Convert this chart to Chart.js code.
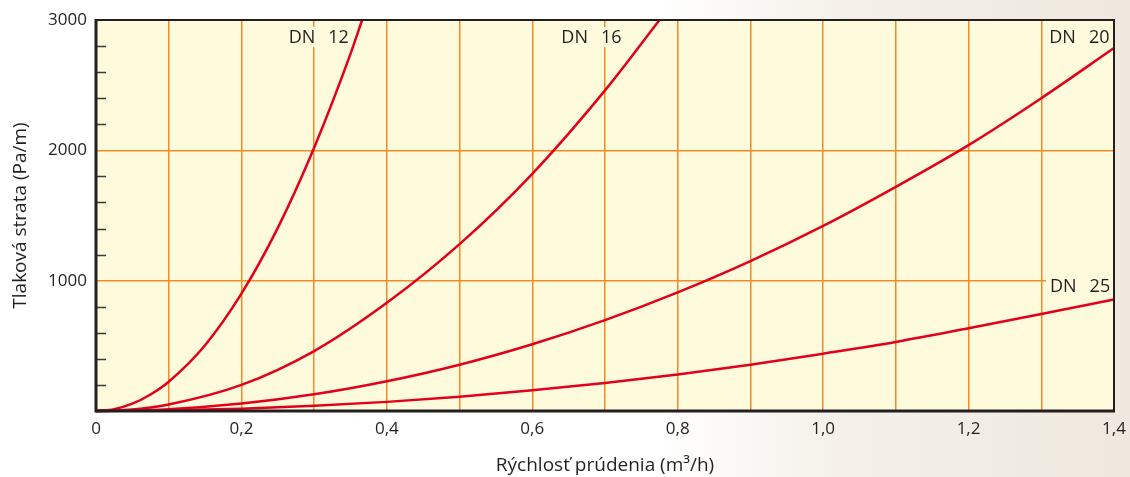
<!DOCTYPE html>
<html>
<head>
<meta charset="utf-8">
<script src="https://cdn.jsdelivr.net/npm/chart.js@4/dist/chart.umd.min.js"></script>
<style>
html,body{margin:0;padding:0;width:1130px;height:477px;overflow:hidden;
background:linear-gradient(90deg,#ffffff 0%,#ffffff 58%,#f4f0e9 75%,#eee8de 100%);}
#wrap{position:relative;width:1130px;height:477px;}
</style>
</head>
<body>
<div id="wrap"><canvas id="c" width="1130" height="477"></canvas></div>
<script>
// Flow rate (m3/h) sample points
const flowDN12 = [0, 0.025, 0.05, 0.075, 0.1, 0.15, 0.2, 0.25, 0.3, 0.35, 0.366];
const lossDN12 = [0, 14, 56, 127, 225, 505, 900, 1405, 2020, 2740, 3000];
const flowDN16 = [0, 0.05, 0.1, 0.2, 0.3, 0.4, 0.5, 0.6, 0.7, 0.775];
const lossDN16 = [0, 12, 50, 200, 460, 830, 1280, 1820, 2460, 3000];
const flowDN20 = [0, 0.1, 0.2, 0.3, 0.4, 0.5, 0.6, 0.7, 0.8, 0.9, 1.0, 1.1, 1.2, 1.3, 1.4];
const lossDN20 = [0, 14, 57, 128, 228, 355, 512, 697, 910, 1150, 1420, 1720, 2040, 2400, 2785];
const flowDN25 = [0, 0.1, 0.2, 0.3, 0.4, 0.5, 0.6, 0.7, 0.8, 0.9, 1.0, 1.1, 1.2, 1.3, 1.4];
const lossDN25 = [0, 5, 18, 40, 70, 110, 160, 215, 280, 355, 440, 530, 635, 745, 855];
const seriesNames = ["DN 12", "DN 16", "DN 20", "DN 25"];
const xTickLabels = ["0", "0,2", "0,4", "0,6", "0,8", "1,0", "1,2", "1,4"];
const yTickLabels = ["1000", "2000", "3000"];
const xTitle = "Rýchlosť prúdenia (m³/h)";
const yTitle = "Tlaková strata (Pa/m)";

const RED = '#e2001a';
const GRID = '#f28a2a';
const PLOT_BG = '#fefadc';
const INK = '#231f20';
const FONT = '"Open Sans", "DejaVu Sans", sans-serif';

function pts(xs, ys){ return xs.map((x,i)=>({x:x, y:ys[i]})); }

const curveLabels = [
  {text:["DN","12"], x:0.265, y:2870},
  {text:["DN","16"], x:0.64, y:2870},
  {text:["DN","20"], x:1.311, y:2870},
  {text:["DN","25"], x:1.312, y:959}
];
const GAP = 13;

function labelGeom(chart, ctx, l){
  const px = chart.scales.x.getPixelForValue(l.x);
  const py = chart.scales.y.getPixelForValue(l.y);
  const w1 = ctx.measureText(l.text[0]).width;
  const w2 = ctx.measureText(l.text[1]).width;
  return {px, py, w1, w2};
}

const framePlugin = {
  id:'frame',
  beforeDraw(chart){
    const {ctx, chartArea:a} = chart;
    ctx.save();
    ctx.fillStyle = PLOT_BG;
    ctx.fillRect(a.left, a.top, a.right-a.left, a.bottom-a.top);
    ctx.restore();
  },
  beforeDatasetsDraw(chart){
    const {ctx} = chart;
    ctx.save();
    ctx.font = '18px ' + FONT;
    curveLabels.forEach(l=>{
      const g = labelGeom(chart, ctx, l);
      ctx.fillStyle = PLOT_BG;
      ctx.fillRect(g.px-4, g.py-10, g.w1+GAP+g.w2+7, 20);
    });
    ctx.restore();
  },
  afterDraw(chart){
    const {ctx, chartArea:a} = chart;
    const ys = chart.scales.y;
    ctx.save();
    ctx.strokeStyle = '#3a3a3a';
    ctx.lineWidth = 1.5;
    ys.ticks.forEach(t=>{
      if (t.value % 1000 !== 0){
        const py = Math.round(ys.getPixelForValue(t.value))+0.5;
        ctx.beginPath(); ctx.moveTo(a.left, py); ctx.lineTo(a.left+10, py); ctx.stroke();
      }
    });
    ctx.font = '18px ' + FONT;
    ctx.textBaseline = 'middle';
    ctx.textAlign = 'left';
    ctx.fillStyle = INK;
    curveLabels.forEach(l=>{
      const g = labelGeom(chart, ctx, l);
      ctx.fillText(l.text[0], g.px, g.py+1);
      ctx.fillText(l.text[1], g.px+g.w1+GAP, g.py+1);
    });
    ctx.strokeStyle = INK;
    ctx.lineWidth = 2;
    ctx.beginPath();
    ctx.moveTo(a.left, a.top); ctx.lineTo(a.right, a.top); ctx.lineTo(a.right, a.bottom);
    ctx.stroke();
    ctx.lineWidth = 3;
    ctx.beginPath();
    ctx.moveTo(a.left, a.top-1); ctx.lineTo(a.left, a.bottom); ctx.lineTo(a.right+1, a.bottom);
    ctx.stroke();
    ctx.restore();
  }
};

const ds = (data)=>({
  data:data, borderColor:RED, borderWidth:2.5, pointRadius:0, fill:false,
  cubicInterpolationMode:'monotone', clip:false
});

new Chart(document.getElementById('c'), {
  type:'line',
  data:{
    datasets:[
      Object.assign(ds(pts(flowDN12, lossDN12)), {label:seriesNames[0]}),
      Object.assign(ds(pts(flowDN16, lossDN16)), {label:seriesNames[1]}),
      Object.assign(ds(pts(flowDN20, lossDN20)), {label:seriesNames[2]}),
      Object.assign(ds(pts(flowDN25, lossDN25)), {label:seriesNames[3]})
    ]
  },
  options:{
    responsive:false, animation:false,
    layout:{padding:{top:20, right:16, left:0, bottom:0}},
    plugins:{legend:{display:false}, tooltip:{enabled:false}},
    scales:{
      x:{
        type:'linear', min:0, max:1.4,
        afterFit(s){ s.height = 66; s.paddingRight = 0; s.paddingLeft = 0; },
        ticks:{
          stepSize:0.1, autoSkip:false, maxRotation:0, padding:8,
          color:INK, font:{family:FONT, size:17},
          callback(v){ const i = Math.round(v*10); return i%2===0 ? xTickLabels[i/2] : ''; }
        },
        grid:{
          drawTicks:false,
          color(c){ const i = Math.round(c.tick.value*10); return (i===0||i===14) ? 'rgba(0,0,0,0)' : GRID; },
          lineWidth:1.5
        },
        border:{display:false},
        title:{display:true, text:xTitle, color:INK, font:{family:FONT, size:19}, padding:{top:10, bottom:0}}
      },
      y:{
        type:'linear', min:0, max:3000,
        afterFit(s){ s.width = 96; },
        ticks:{
          stepSize:200, autoSkip:false, padding:9,
          color:INK, font:{family:FONT, size:17},
          callback(v){ return (v%1000===0 && v>0) ? yTickLabels[v/1000-1] : ''; }
        },
        grid:{
          drawTicks:false,
          color(c){ const v=c.tick.value; return (v%1000===0 && v>0 && v<3000) ? GRID : 'rgba(0,0,0,0)'; },
          lineWidth:1.5
        },
        border:{display:false},
        title:{display:true, text:yTitle, color:INK, font:{family:FONT, size:19}, padding:{top:9, bottom:0}}
      }
    }
  },
  plugins:[framePlugin]
});
</script>
</body>
</html>
